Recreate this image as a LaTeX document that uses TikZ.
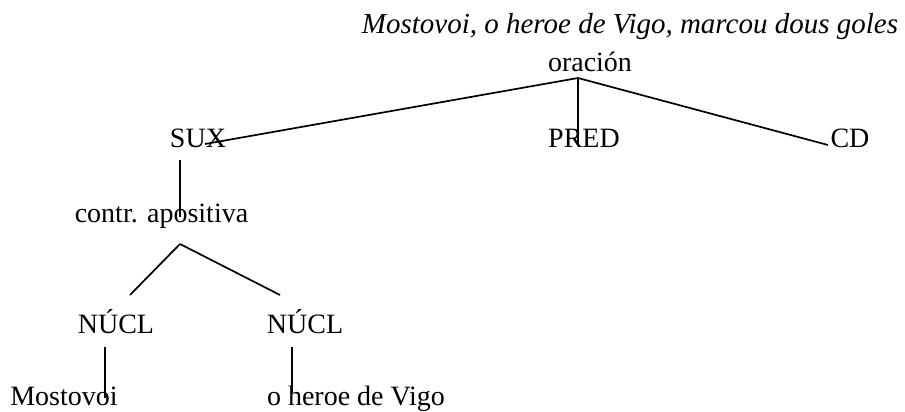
\documentclass[tikz,border=0pt]{standalone}
\usepackage{fontspec}
\setmainfont{Liberation Serif}
\begin{document}
\begin{tikzpicture}[x=1pt,y=-1pt,
  lbl/.style={anchor=base,inner sep=0pt,font=\fontsize{28}{30}\selectfont},
  ttl/.style={anchor=base,inner sep=0pt,font=\fontsize{29}{31}\selectfont\itshape},
  edge/.style={line width=1.7pt}]
\useasboundingbox (0,0) rectangle (905,412);
% labels
\node[ttl] (title) at (630,34) {Mostovoi, o heroe de Vigo, marcou dous goles};
\node[lbl] (oracion) at (590,72) {oración};
\node[lbl] (sux) at (198,147) {SUX};
\node[lbl] (pred) at (584,147) {PRED};
\node[lbl] (cd) at (850,147) {CD};
\node[lbl] (contr) at (161.5,222) {contr. apositiva};
\node[lbl] (nucla) at (116,333) {NÚCL};
\node[lbl] (nuclb) at (305,333) {NÚCL};
\node[lbl] (most) at (64,405) {Mostovoi};
\node[lbl] (heroe) at (356,405) {o heroe de Vigo};
% connector end points
\coordinate (or-b) at (578,78);
\coordinate (sux-t) at (205,144);
\coordinate (pred-t) at (578,146);
\coordinate (cd-t) at (828,145);
\coordinate (sux-b) at (180,160);
\coordinate (contr-t) at (180,217);
\coordinate (contr-b) at (180,244);
\coordinate (nucla-t) at (130,295);
\coordinate (nuclb-t) at (280,295);
\coordinate (nucla-b) at (105,347);
\coordinate (most-t) at (105,398);
\coordinate (nuclb-b) at (292,347);
\coordinate (heroe-t) at (292,393);
% connectors
\draw[edge] (or-b) -- (sux-t);
\draw[edge] (or-b) -- (pred-t);
\draw[edge] (or-b) -- (cd-t);
\draw[edge] (sux-b) -- (contr-t);
\draw[edge] (contr-b) -- (nucla-t);
\draw[edge] (contr-b) -- (nuclb-t);
\draw[edge] (nucla-b) -- (most-t);
\draw[edge] (nuclb-b) -- (heroe-t);
\end{tikzpicture}
\end{document}
